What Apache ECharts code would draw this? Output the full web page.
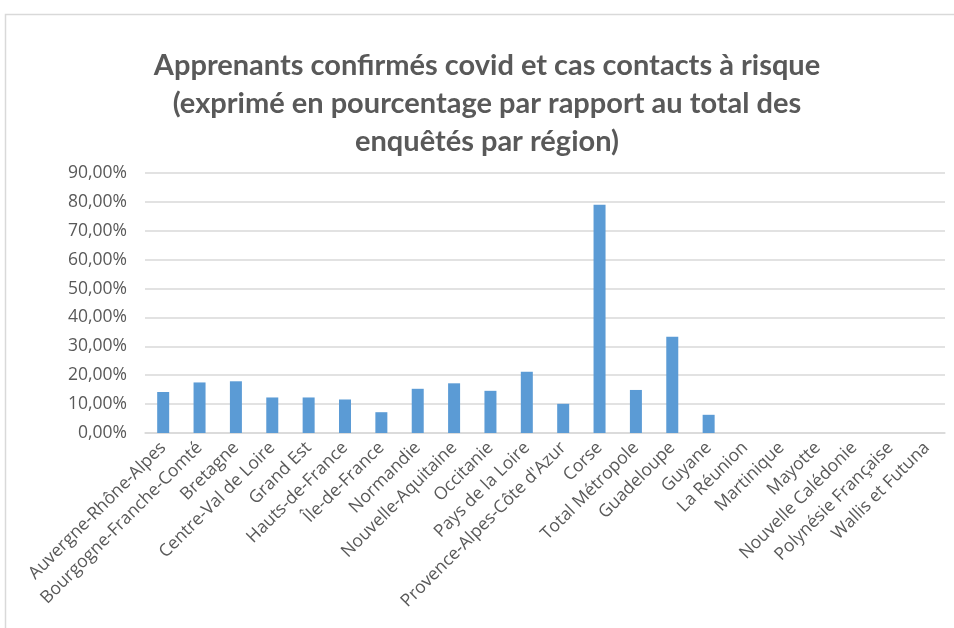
<!DOCTYPE html>
<html>
<head>
<meta charset="utf-8">
<script src="https://cdn.jsdelivr.net/npm/echarts@6/dist/echarts.min.js"></script>
<style>
  html, body { margin: 0; padding: 0; background: #fff; }
  #chart { width: 954px; height: 628px; }
</style>
</head>
<body>
<div id="chart"></div>
<script>
// régions (axe des abscisses)
const regions = [
  "Auvergne-Rhône-Alpes", "Bourgogne-Franche-Comté", "Bretagne", "Centre-Val de Loire",
  "Grand Est", "Hauts-de-France", "Île-de-France", "Normandie", "Nouvelle-Aquitaine",
  "Occitanie", "Pays de la Loire", "Provence-Alpes-Côte d'Azur", "Corse", "Total Métropole",
  "Guadeloupe", "Guyane", "La Réunion", "Martinique", "Mayotte", "Nouvelle Calédonie",
  "Polynésie Française", "Wallis et Futuna"
];
// pourcentages
const pourcentages = [
  14.2, 17.5, 17.9, 12.3, 12.3, 11.6, 7.2, 15.3, 17.2, 14.6, 21.2,
  10.1, 79.0, 14.9, 33.3, 6.3, 0, 0, 0, 0, 0, 0
];
const titre = "Apprenants confirmés covid et cas contacts à risque\n(exprimé en pourcentage par rapport au total des\nenquêtés par région)";

const gris = "#595959";
const policeAxe = "'Open Sans', sans-serif";
const chart = echarts.init(document.getElementById("chart"));
chart.setOption({
  animation: false,
  graphic: [{
    type: "rect",
    shape: { x: 5.5, y: 14.5, width: 960, height: 640 },
    style: { fill: "none", stroke: "#d9d9d9", lineWidth: 1.5 }
  }],
  title: {
    text: titre,
    left: 482,
    top: 42,
    textAlign: "center",
    textStyle: {
      fontFamily: "Lato, sans-serif",
      fontWeight: "bold",
      fontSize: 29,
      lineHeight: 38,
      color: gris
    }
  },
  grid: { left: 145, right: 9, top: 173, bottom: 195 },
  xAxis: {
    type: "category",
    data: regions,
    axisTick: { show: false },
    axisLine: { lineStyle: { color: "#d9d9d9", width: 1.5 } },
    axisLabel: {
      interval: 0,
      rotate: 45,
      margin: 12,
      color: gris,
      fontSize: 17.5,
      fontFamily: policeAxe
    }
  },
  yAxis: {
    type: "value",
    min: 0,
    max: 90,
    interval: 10,
    axisLine: { show: false },
    axisTick: { show: false },
    splitLine: { lineStyle: { color: "#d9d9d9", width: 1.5 } },
    axisLabel: {
      color: gris,
      fontSize: 17.5,
      margin: 18,
      fontFamily: policeAxe,
      formatter: v => v.toFixed(2).replace(".", ",") + "%"
    }
  },
  series: [{
    type: "bar",
    data: pourcentages,
    barWidth: 12,
    itemStyle: { color: "#5b9bd5" }
  }]
});
</script>
</body>
</html>
